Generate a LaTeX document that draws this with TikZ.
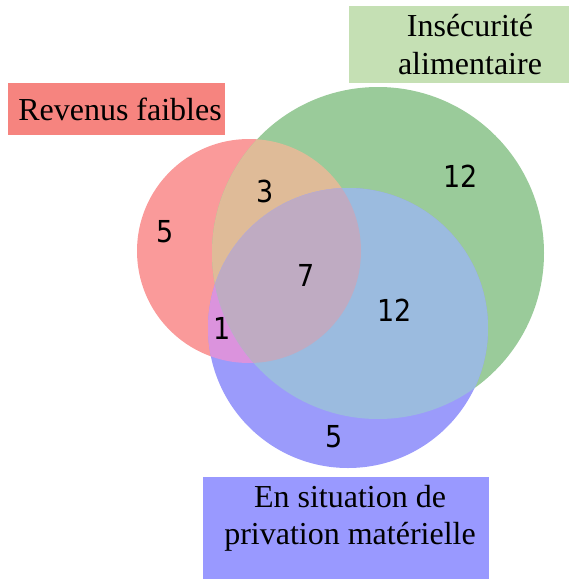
\documentclass[tikz,border=0pt]{standalone}
\usepackage{fontspec}
\setmainfont{Liberation Serif}
\newfontfamily\numfont{DejaVu Sans}
\definecolor{cR}{RGB}{250,154,154}
\definecolor{cG}{RGB}{154,203,154}
\definecolor{cB}{RGB}{155,155,251}
\definecolor{cRG}{RGB}{223,187,152}
\definecolor{cRB}{RGB}{219,147,221}
\definecolor{cGB}{RGB}{155,187,223}
\definecolor{cRGB}{RGB}{191,171,194}
\definecolor{lR}{RGB}{246,132,127}
\definecolor{lG}{RGB}{197,224,180}
\definecolor{lB}{RGB}{153,153,255}
\newcommand{\vnum}[1]{\scalebox{1}[1.12]{#1}}
\tikzset{
  labbox/.style={draw=none, inner sep=0pt, anchor=north west},
  labtxt/.style={inner sep=0pt, anchor=base, font=\fontsize{32}{38}\selectfont},
  num/.style={inner sep=0pt, anchor=center, font=\numfont\fontsize{27}{30}\selectfont}
}
\begin{document}
\begin{tikzpicture}[x=1pt,y=-1pt]
\useasboundingbox (0,0) rectangle (569,579);
\def\Rc{(249,251) circle[radius=112]}
\def\Gc{(378,253) circle[radius=166]}
\def\Bc{(348,328) circle[radius=140]}
% base circles
\fill[cR] \Rc;
\fill[cG] \Gc;
\fill[cB] \Bc;
% overlaps
\begin{scope}\clip \Rc; \fill[cRG] \Gc; \end{scope}
\begin{scope}\clip \Rc; \fill[cRB] \Bc; \end{scope}
\begin{scope}\clip \Gc; \fill[cGB] \Bc; \end{scope}
\begin{scope}\clip \Rc; \clip \Gc; \fill[cRGB] \Bc; \end{scope}
% numbers
\node[num] (n1) at (165,232) {\vnum{5}};
\node[num] (n2) at (265,191) {\vnum{3}};
\node[num] (n3) at (461,176) {\vnum{12}};
\node[num] (n4) at (306,275) {\vnum{7}};
\node[num] (n5) at (395,310) {\vnum{12}};
\node[num] (n6) at (222,328) {\vnum{1}};
\node[num] (n7) at (334,437) {\vnum{5}};
% label boxes
\node[labbox, fill=lR, minimum width=217pt, minimum height=52pt] (rbox) at (8,83) {};
\node[labtxt] (rtxt) at (120,120) {Revenus faibles};
\node[labbox, fill=lG, minimum width=220pt, minimum height=77pt] (gbox) at (349,5.5) {};
\node[labtxt] (gtxt1) at (470,36) {Insécurité};
\node[labtxt] (gtxt2) at (470,74) {alimentaire};
\node[labbox, fill=lB, minimum width=286pt, minimum height=102pt] (bbox) at (203,477) {};
\node[labtxt] (btxt1) at (350,507) {En situation de};
\node[labtxt] (btxt2) at (350,544) {privation matérielle};
\end{tikzpicture}
\end{document}
